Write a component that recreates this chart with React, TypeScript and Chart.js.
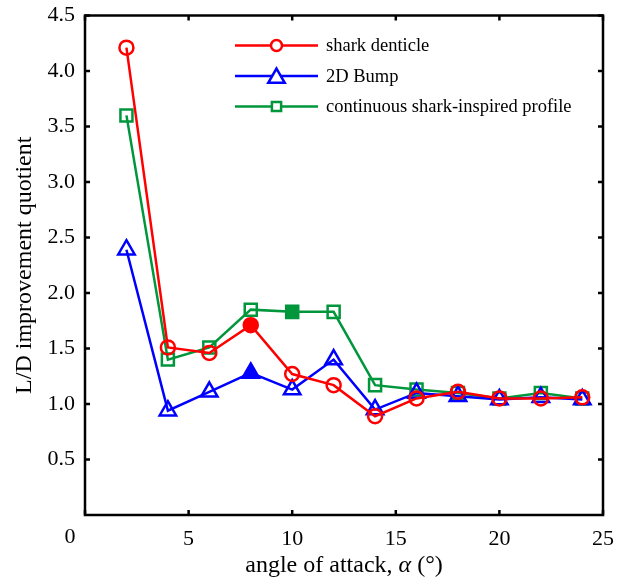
import React, { useEffect, useRef } from 'react';
import { Chart, registerables } from 'chart.js';

Chart.register(...registerables);

const angles = [2, 4, 6, 8, 10, 12, 14, 16, 18, 20, 22, 24];
const sharkDenticle = [4.21, 1.51, 1.46, 1.71, 1.27, 1.17, 0.89, 1.05, 1.11, 1.05, 1.05, 1.06];
const bump2D = [2.39, 0.94, 1.11, 1.28, 1.13, 1.40, 0.95, 1.10, 1.07, 1.04, 1.06, 1.04];
const continuousProfile = [3.60, 1.40, 1.51, 1.85, 1.83, 1.83, 1.17, 1.13, 1.10, 1.05, 1.10, 1.05];
const filledAngles = [8, 8, 10];
const seriesNames = ['shark denticle', '2D Bump', 'continuous shark-inspired profile'];
const seriesColors = ['#ff0000', '#0000ff', '#00963c'];
const seriesMarkers = ['circle', 'triangle', 'rect'];
const seriesRadii = [7, 9.5, 8.5];
const legendRadii = [5.5, 9.5, 6.5];
const xTickValues = [0, 5, 10, 15, 20, 25];
const yTickValues = [0.5, 1.0, 1.5, 2.0, 2.5, 3.0, 3.5, 4.0, 4.5];

const FONT = '"Liberation Serif", "Times New Roman", serif';

function drawMarker(ctx: CanvasRenderingContext2D, style: string, x: number, y: number, r: number, stroke: string, fill: string) {
  ctx.save();
  ctx.beginPath();
  if (style === 'circle') {
    ctx.arc(x, y, r, 0, Math.PI * 2);
  } else if (style === 'triangle') {
    const a = (2 * Math.PI) / 3;
    ctx.moveTo(x, y - r);
    ctx.lineTo(x + Math.sin(a) * r, y - Math.cos(a) * r);
    ctx.lineTo(x + Math.sin(2 * a) * r, y - Math.cos(2 * a) * r);
    ctx.closePath();
  } else {
    const s = Math.SQRT1_2 * r;
    ctx.rect(x - s, y - s, 2 * s, 2 * s);
  }
  ctx.fillStyle = fill;
  ctx.fill();
  ctx.lineWidth = 2.5;
  ctx.strokeStyle = stroke;
  ctx.stroke();
  ctx.restore();
}

const framePlugin = {
  id: 'frameAndLegend',
  afterDraw(chart: any) {
    const { ctx, chartArea } = chart;
    const xs = chart.scales.x;
    const ys = chart.scales.y;
    const { left, right, top, bottom } = chartArea;
    ctx.save();
    ctx.strokeStyle = '#000';
    ctx.lineWidth = 2.5;
    ctx.strokeRect(left, top, right - left, bottom - top);
    const tl = 5;
    ctx.beginPath();
    xTickValues.forEach((v) => {
      const px = xs.getPixelForValue(v);
      ctx.moveTo(px, bottom);
      ctx.lineTo(px, bottom - tl);
      ctx.moveTo(px, top);
      ctx.lineTo(px, top + tl);
    });
    yTickValues.forEach((v) => {
      const py = ys.getPixelForValue(v);
      ctx.moveTo(left, py);
      ctx.lineTo(left + tl, py);
      ctx.moveTo(right, py);
      ctx.lineTo(right - tl, py);
    });
    ctx.stroke();

    // origin label, set a little to the left of the axis as in the source figure
    ctx.fillStyle = '#000';
    ctx.font = `22px ${FONT}`;
    ctx.textAlign = 'center';
    ctx.textBaseline = 'top';
    ctx.fillText('0', xs.getPixelForValue(0) - 15, bottom + 11);

    // x-axis title with italic alpha
    const parts = [
      { t: 'angle of attack, ', f: `24px ${FONT}` },
      { t: 'α', f: `italic 24px ${FONT}` },
      { t: ' (°)', f: `24px ${FONT}` },
    ];
    let total = 0;
    parts.forEach((p) => { ctx.font = p.f; total += ctx.measureText(p.t).width; });
    let cx = (left + right) / 2 - total / 2;
    ctx.textAlign = 'left';
    ctx.textBaseline = 'alphabetic';
    parts.forEach((p) => {
      ctx.font = p.f;
      ctx.fillText(p.t, cx, bottom + 57);
      cx += ctx.measureText(p.t).width;
    });

    // legend
    const lx = left + 150;
    const ly = top + 30;
    const gap = 30.5;
    ctx.font = `18.5px ${FONT}`;
    ctx.textBaseline = 'middle';
    seriesNames.forEach((name, i) => {
      const y = ly + i * gap;
      ctx.beginPath();
      ctx.strokeStyle = seriesColors[i];
      ctx.lineWidth = 2.5;
      ctx.moveTo(lx, y);
      ctx.lineTo(lx + 83, y);
      ctx.stroke();
      drawMarker(ctx, seriesMarkers[i], lx + 41.5, i === 1 ? y + 2 : y, legendRadii[i], seriesColors[i], '#fff');
      ctx.fillStyle = '#000';
      ctx.fillText(name, lx + 91, y + 1);
    });
    ctx.restore();
  },
};

function makeDataset(i: number, values: number[]) {
  const color = seriesColors[i];
  return {
    label: seriesNames[i],
    data: angles.map((a, k) => ({ x: a, y: values[k] })),
    borderColor: color,
    borderWidth: 2.5,
    pointStyle: seriesMarkers[i],
    pointRadius: seriesRadii[i],
    pointBorderWidth: 2.5,
    pointBorderColor: color,
    pointBackgroundColor: angles.map((a) => (a === filledAngles[i] ? color : 'rgba(255,255,255,0)')),
    tension: 0,
    fill: false,
  };
}

export default function App() {
  const ref = useRef<HTMLCanvasElement | null>(null);
  useEffect(() => {
    if (!ref.current) return;
    const chart = new Chart(ref.current, {
      type: 'line',
      data: {
        datasets: [
          makeDataset(0, sharkDenticle),
          makeDataset(1, bump2D),
          makeDataset(2, continuousProfile),
        ],
      },
      options: {
        animation: false,
        responsive: false,
        maintainAspectRatio: false,
        layout: { padding: { left: 0, right: 25, top: 15.5, bottom: 0 } },
        plugins: { legend: { display: false }, tooltip: { enabled: false } },
        scales: {
          x: {
            type: 'linear',
            min: 0,
            max: 25,
            afterFit: (s: any) => { s.height = 63; s.paddingLeft = 0; s.paddingRight = 0; },
            afterBuildTicks: (s: any) => { s.ticks = xTickValues.map((v) => ({ value: v })); },
            grid: { display: false, drawTicks: false },
            border: { display: false },
            ticks: {
              color: '#000',
              font: { family: FONT, size: 22 },
              padding: 11,
              maxRotation: 0,
              callback: (v: any) => (v === 0 ? '' : String(v)),
            },
            title: { display: false },
          },
          y: {
            type: 'linear',
            min: 0,
            max: 4.5,
            afterFit: (s: any) => { s.width = 85; s.paddingTop = 0; s.paddingBottom = 0; },
            afterBuildTicks: (s: any) => { s.ticks = [0, ...yTickValues].map((v) => ({ value: v })); },
            grid: { display: false, drawTicks: false },
            border: { display: false },
            ticks: {
              color: '#000',
              font: { family: FONT, size: 22 },
              padding: 10,
              callback: (v: any) => (v === 0 ? '' : Number(v).toFixed(1)),
            },
            title: {
              display: true,
              text: 'L/D improvement quotient',
              color: '#000',
              font: { family: FONT, size: 24 },
              padding: { top: 10, bottom: 0 },
            },
          },
        },
      },
      plugins: [framePlugin],
    });
    return () => chart.destroy();
  }, []);
  return (
    <div style={{ position: 'fixed', left: 0, top: 0, width: 628, height: 578, background: '#fff' }}>
      <canvas ref={ref} width={628} height={578} style={{ width: 628, height: 578, display: 'block' }} />
    </div>
  );
}
